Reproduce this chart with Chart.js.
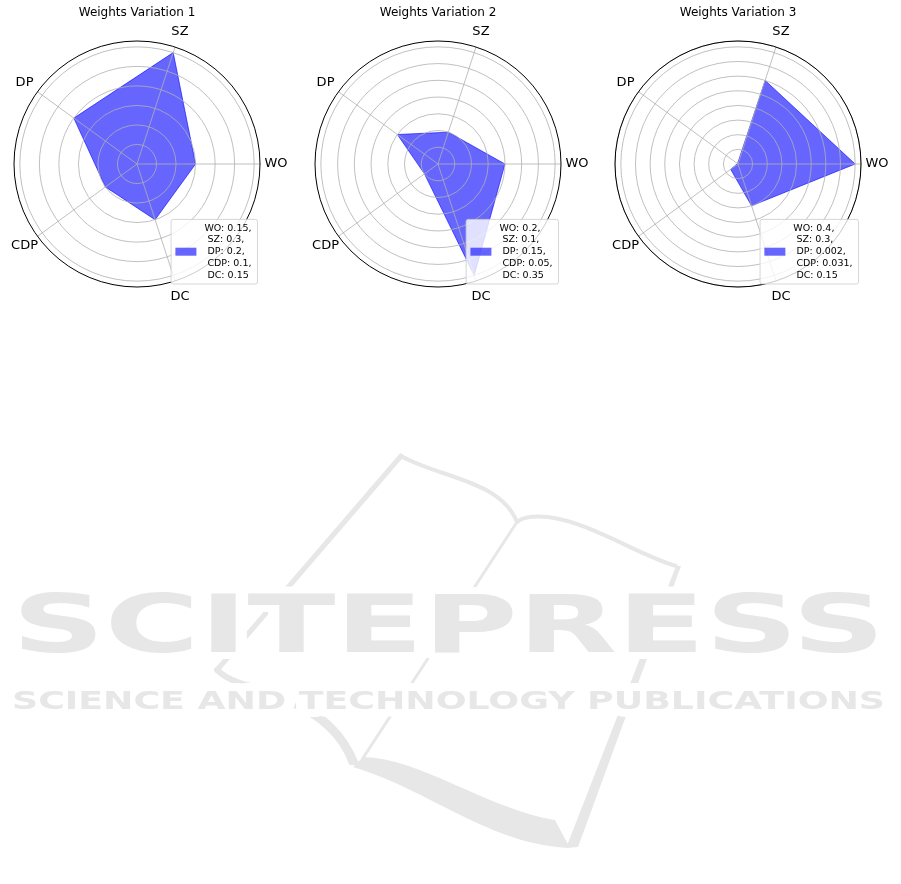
<!DOCTYPE html>
<html>
<head>
<meta charset="utf-8">
<script src="https://cdn.jsdelivr.net/npm/chart.js@4.4.1/dist/chart.umd.min.js"></script>
<style>
  html, body { margin: 0; padding: 0; background: #fff; }
  body { width: 901px; height: 884px; position: relative; overflow: hidden; }
  canvas { position: absolute; top: 0; }
</style>
</head>
<body>
<canvas id="mark" width="901" height="884" style="left:0px"></canvas>
<canvas id="c1" width="300" height="310" style="left:0px"></canvas>
<canvas id="c2" width="300" height="310" style="left:301px"></canvas>
<canvas id="c3" width="300" height="310" style="left:601px"></canvas>
<script>
const criteria = ["WO", "SZ", "DP", "CDP", "DC"];
const titles = ["Weights Variation 1", "Weights Variation 2", "Weights Variation 3"];
const weights1 = [0.15, 0.3, 0.2, 0.1, 0.15];
const weights2 = [0.2, 0.1, 0.15, 0.05, 0.35];
const weights3 = [0.4, 0.3, 0.002, 0.031, 0.15];
const radialMax = [0.315, 0.3675, 0.42];
const ringStep = 0.05;
// chart.js walks clockwise from startAngle, the original goes counter-clockwise
const drawOrder = [0, 4, 3, 2, 1];

const fillBlue = 'rgba(0,0,255,0.6)';
const gridGrey = '#b0b0b0';
const font = '"DejaVu Sans", sans-serif';

// outer spine, criterion labels and the multi-line legend box
const polarExtras = {
  id: 'polarExtras',
  afterDraw(chart, args, opts) {
    const ctx = chart.ctx;
    const r = chart.scales.r;
    ctx.save();

    ctx.beginPath();
    ctx.arc(r.xCenter, r.yCenter, r.drawingArea, 0, Math.PI * 2);
    ctx.strokeStyle = '#000';
    ctx.lineWidth = 1;
    ctx.stroke();

    ctx.font = '13px ' + font;
    ctx.fillStyle = '#000';
    ctx.textAlign = 'center';
    ctx.textBaseline = 'middle';
    chart.data.labels.forEach((lab, i) => {
      const p = r.getPointPosition(i, r.drawingArea + 16);
      ctx.fillText(lab, p.x, p.y);
    });

    const lines = opts.lines;
    ctx.font = '9.5px ' + font;
    const lh = 11.8;
    const tw = Math.max(...lines.map(l => ctx.measureText(l).width));
    const w = 4.3 + 21 + 8 + tw + 6;
    const h = lines.length * lh + 5.6;
    const right = r.xCenter + r.drawingArea - 2.5;
    const bottom = r.yCenter + r.drawingArea - 3;
    const x = right - w, y = bottom - h;

    ctx.beginPath();
    ctx.roundRect(x, y, w, h, 2);
    ctx.fillStyle = 'rgba(255,255,255,0.8)';
    ctx.fill();
    ctx.strokeStyle = 'rgba(204,204,204,0.8)';
    ctx.lineWidth = 1;
    ctx.stroke();

    ctx.fillStyle = fillBlue;
    ctx.fillRect(x + 4.3, y + h / 2 - 4, 21, 8);

    ctx.fillStyle = '#000';
    ctx.textAlign = 'left';
    lines.forEach((l, i) => {
      ctx.fillText(l, x + 4.3 + 21 + 8, y + 2.8 + lh * (i + 0.5));
    });
    ctx.restore();
  }
};

function makeChart(id, idx, weights) {
  const labels = drawOrder.map(i => criteria[i]);
  const values = drawOrder.map(i => weights[i]);
  const legendLines = criteria.map((c, i) =>
    (i ? ' ' : '') + c + ': ' + weights[i] + (i < criteria.length - 1 ? ',' : ''));

  return new Chart(document.getElementById(id), {
    type: 'radar',
    data: {
      labels: labels,
      datasets: [{
        data: values,
        backgroundColor: fillBlue,
        borderColor: fillBlue,
        borderWidth: 1,
        pointRadius: 0,
        fill: true
      }]
    },
    options: {
      responsive: false,
      animation: false,
      devicePixelRatio: 1,
      layout: { padding: { left: 14, right: 40, top: 0, bottom: 23 } },
      plugins: {
        legend: { display: false },
        tooltip: { enabled: false },
        title: {
          display: true,
          text: titles[idx],
          color: '#000',
          font: { family: font, size: 12, weight: 'normal' },
          padding: { top: 6, bottom: 20.6 }
        },
        polarExtras: { lines: legendLines }
      },
      scales: {
        r: {
          min: 0,
          max: radialMax[idx],
          bounds: 'data',
          startAngle: 90,
          ticks: { display: false, stepSize: ringStep, includeBounds: false, z: 1 },
          grid: { circular: true, color: gridGrey, lineWidth: 0.8, z: 1 },
          border: { z: 1 },
          angleLines: { color: gridGrey, lineWidth: 0.8 },
          pointLabels: { display: false }
        }
      }
    },
    plugins: [polarExtras]
  });
}

// faint publisher watermark behind the page
function drawWatermark() {
  const ctx = document.getElementById('mark').getContext('2d');
  const grey = 'rgb(230,231,230)';
  ctx.strokeStyle = grey;
  ctx.fillStyle = grey;
  ctx.lineCap = 'round';
  ctx.lineJoin = 'round';

  // open book outline
  ctx.lineWidth = 5;
  ctx.beginPath();
  ctx.moveTo(401, 456);
  ctx.lineTo(217, 670);
  ctx.stroke();

  ctx.lineWidth = 6;
  ctx.beginPath();
  ctx.moveTo(217, 670);
  ctx.quadraticCurveTo(232, 684, 262, 688);
  ctx.stroke();

  ctx.beginPath();
  ctx.moveTo(290, 705);
  ctx.bezierCurveTo(315, 716, 340, 735, 350, 764);
  ctx.lineTo(358, 764);
  ctx.bezierCurveTo(345, 730, 320, 710, 292, 698);
  ctx.closePath();
  ctx.fill();
  ctx.lineWidth = 2;
  ctx.stroke();

  ctx.lineWidth = 4;
  ctx.beginPath();
  ctx.moveTo(401, 456);
  ctx.bezierCurveTo(440, 478, 500, 480, 517, 522);
  ctx.stroke();

  ctx.beginPath();
  ctx.moveTo(517, 522);
  ctx.quadraticCurveTo(525, 515, 548, 517);
  ctx.bezierCurveTo(590, 522, 640, 556, 676, 566);
  ctx.stroke();

  ctx.lineWidth = 3;
  ctx.beginPath();
  ctx.moveTo(517, 522);
  ctx.lineTo(363, 758);
  ctx.stroke();

  ctx.beginPath();
  ctx.moveTo(676, 566);
  ctx.lineTo(681, 566);
  ctx.lineTo(578, 847);
  ctx.lineTo(566, 848);
  ctx.closePath();
  ctx.fill();

  ctx.beginPath();
  ctx.moveTo(363, 757);
  ctx.bezierCurveTo(420, 758, 490, 810, 555, 820);
  ctx.lineTo(570, 848);
  ctx.bezierCurveTo(490, 845, 430, 790, 353, 767);
  ctx.closePath();
  ctx.fill();

  function wordmark(text, size, left, right, baseline, halo) {
    ctx.save();
    ctx.font = 'bold ' + size + 'px ' + font;
    const w = ctx.measureText(text).width;
    ctx.translate(left, baseline);
    ctx.scale((right - left) / w, 1);
    ctx.lineWidth = halo;
    ctx.strokeStyle = '#fff';
    ctx.strokeText(text, 0, 0);
    ctx.fillStyle = grey;
    ctx.fillText(text, 0, 0);
    ctx.restore();
  }
  wordmark('SCITEPRESS', 80, 12, 885, 652, 14);
  wordmark('SCIENCE AND TECHNOLOGY PUBLICATIONS', 25, 12, 885, 709, 16);
}

drawWatermark();
makeChart('c1', 0, weights1);
makeChart('c2', 1, weights2);
makeChart('c3', 2, weights3);
</script>
</body>
</html>
